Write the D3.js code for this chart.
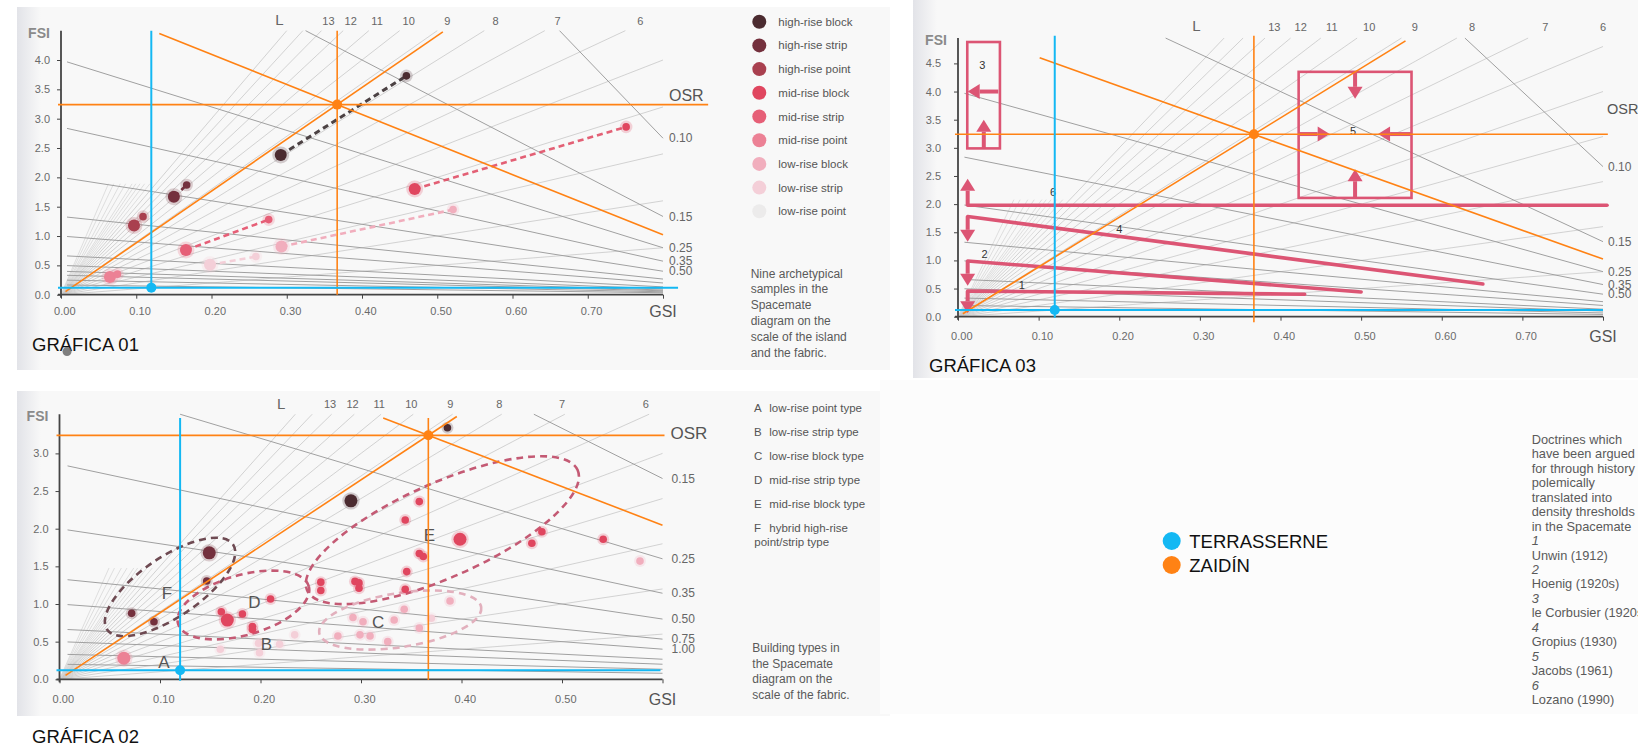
<!DOCTYPE html>
<html>
<head>
<meta charset="utf-8">
<script src="https://cdn.jsdelivr.net/npm/d3@7"></script>
<style>
  body { margin: 0; background: #fff; }
  text { font-family: "Liberation Sans", Arial, sans-serif; }
  .tick text { fill: #6a6a6a; font-size: 11px; }
  .tick line { stroke: #444; }
</style>
</head>
<body>
<div class="chart"></div>
<script>
// ---- shared overlay values (GSI, FSI) ----
var overlayNames = ["TERRASSERNE", "ZAIDÍN"];
var terrasserne = [0.12, 0.12];
var zaidin = [0.367, 3.24];

// spacemate fan: building heights (L) and top labels
var lValues = [1, 2, 3, 4, 5, 6, 7, 8, 9, 10, 11, 12, 13, 14, 15];
var lShort = [16, 17, 18, 19, 20, 22, 24, 27, 30];
var lLabels = [13, 12, 11, 10, 9, 8, 7, 6];

// ---- gráfica 01 ----
var gsiTicks1 = [0, 0.1, 0.2, 0.3, 0.4, 0.5, 0.6, 0.7, 0.8];
var fsiTicks1 = [0, 0.5, 1, 1.5, 2, 2.5, 3, 3.5, 4];
var osrLines1 = [0.075, 0.15, 0.25, 0.35, 0.5, 0.75, 1, 1.5, 2, 2.5, 3, 4, 6];
var osrLabels1 = ["0.10", "0.15", "0.25", "0.35", "0.50"];

var sampleTypes = ["high-rise block", "high-rise strip", "high-rise point", "mid-rise block",
  "mid-rise strip", "mid-rise point", "low-rise block", "low-rise strip", "low-rise point"];
var sampleColors = ["#4b2b30", "#74303d", "#a9404f", "#e0465f", "#e65f77", "#ec8195",
  "#f1aebd", "#f4cfd8", "#ecebeb"];
// island (large dot) and fabric (small dot) values
var islandGsi = [0.292, 0.150, 0.097, 0.470, 0.166, 0.065, 0.293, 0.198];
var islandFsi = [2.38, 1.67, 1.18, 1.80, 0.76, 0.30, 0.82, 0.51];
var fabricGsi = [0.459, 0.167, 0.109, 0.751, 0.276, 0.075, 0.521, 0.259];
var fabricFsi = [3.73, 1.87, 1.33, 2.86, 1.28, 0.35, 1.45, 0.65];
var blotGsi = [0.008];
var blotFsi = [-0.97];
var caption1 = ["Nine archetypical", "samples in the", "Spacemate", "diagram on the",
  "scale of the island", "and the fabric."];

// ---- gráfica 02 ----
var gsiTicks2 = [0, 0.1, 0.2, 0.3, 0.4, 0.5, 0.6];
var fsiTicks2 = [0, 0.5, 1, 1.5, 2, 2.5, 3];
var osrLines2 = [0.15, 0.25, 0.35, 0.5, 0.75, 1, 1.5, 2, 3, 5];
var osrLabels2 = ["0.15", "0.25", "0.35", "0.50", "0.75", "1.00"];
var typeKeys = ["A", "B", "C", "D", "E", "F"];
var typeNames = ["low-rise point type", "low-rise strip type", "low-rise block type",
  "mid-rise strip type", "mid-rise block type", "hybrid high-rise"];
var pts2Gsi = [0.29, 0.386,
  0.149, 0.1465, 0.0718, 0.094,
  0.344, 0.358, 0.358, 0.362, 0.3455, 0.344, 0.3985, 0.47, 0.48, 0.541,
  0.26, 0.26, 0.294, 0.298, 0.298, 0.21, 0.161, 0.167, 0.182, 0.192, 0.192,
  0.064,
  0.292, 0.302, 0.333, 0.343, 0.358, 0.277, 0.299, 0.309, 0.3266, 0.3886, 0.5776,
  0.234, 0.219, 0.198, 0.199, 0.160, 0.37];
var pts2Fsi = [2.37, 3.34,
  1.68, 1.305, 0.876, 0.765,
  2.115, 2.36, 1.67, 1.63, 1.43, 1.195, 1.86, 1.806, 1.96, 1.86,
  1.29, 1.18, 1.30, 1.28, 1.21, 1.066, 0.898, 0.787, 0.867, 0.70, 0.66,
  0.28,
  0.82, 0.765, 0.787, 0.93, 0.68, 0.575, 0.59, 0.575, 0.50, 1.04, 1.57,
  0.59, 0.465, 0.478, 0.353, 0.40, 0.81];
var pts2Cat = [0, 0, 1, 1, 1, 1,
  3, 3, 3, 3, 3, 3, 3, 3, 3, 3, 3, 3, 3, 3, 3, 3, 3, 3, 3, 3, 3,
  5, 6, 6, 6, 6, 6, 6, 6, 6, 6, 6, 6, 7, 7, 7, 7, 7, 7];
var pts2Big = [1, 0, 1, 0, 0, 0, 0, 0, 0, 0, 0, 0, 1, 0, 0, 0, 0, 0, 0, 0, 0, 0, 0, 1, 0, 0, 0,
  1, 0, 0, 0, 0, 0, 0, 0, 0, 0, 0, 0, 0, 0, 0, 0, 0, 0];
// type groups: centre (GSI, FSI) and letter position (GSI, FSI)
var groupKeys = ["F", "D", "E", "C"];
var groupGsi = [0.110, 0.183, 0.381, 0.339];
var groupFsi = [1.226, 0.987, 1.98, 0.787];
var letterGsi = [0.104, 0.206, 0.317, 0.194, 0.368, 0.107];
var letterFsi = [0.225, 0.469, 0.757, 1.03, 1.916, 1.142];
var caption2 = ["Building types in", "the Spacemate", "diagram on the", "scale of the fabric."];

// ---- gráfica 03 ----
var gsiTicks3 = [0, 0.1, 0.2, 0.3, 0.4, 0.5, 0.6, 0.7, 0.8];
var fsiTicks3 = [0, 0.5, 1, 1.5, 2, 2.5, 3, 3.5, 4, 4.5];
var osrLines3 = [0.075, 0.15, 0.25, 0.35, 0.5, 0.75, 1, 1.5, 2, 3, 5];
var osrLabels3 = ["0.10", "0.15", "0.25", "0.35", "0.50"];
var doctrineIds = ["1", "2", "3", "4", "5", "6"];
var doctrineNames = ["Unwin (1912)", "Hoenig (1920s)", "le Corbusier (1920s)", "Gropius (1930)",
  "Jacobs (1961)", "Lozano (1990)"];
// threshold lines [gsi0, fsi0, gsi1, fsi1] for 1, 2, 4, 6
var thresholdLines = [[0.012, 0.455, 0.43, 0.40], [0.012, 0.99, 0.50, 0.44],
  [0.012, 1.78, 0.651, 0.58], [0.012, 1.98, 0.805, 1.98]];
// boxes [gsi0, gsi1, fsi0, fsi1] for 3 and 5
var thresholdBoxes = [[0.0115, 0.052, 2.99, 4.88], [0.4225, 0.5625, 2.11, 4.35]];
// arrows [gsiFrom, fsiFrom, gsiTo, fsiTo]
var thresholdArrows = [[0.05, 4.0, 0.012, 4.0], [0.032, 2.99, 0.032, 3.5],
  [0.012, 1.98, 0.012, 2.45], [0.012, 1.78, 0.012, 1.33],
  [0.012, 0.99, 0.012, 0.55], [0.012, 0.455, 0.012, 0.06],
  [0.4925, 4.35, 0.4925, 3.87], [0.4925, 2.11, 0.4925, 2.62],
  [0.4225, 3.245, 0.461, 3.245], [0.5625, 3.245, 0.521, 3.245]];
var idGsi = [0.079, 0.033, 0.030, 0.200, 0.490, 0.118];
var idFsi = [0.56, 1.11, 4.47, 1.56, 3.30, 2.21];
var caption3 = ["Doctrines which", "have been argued", "for through history", "polemically",
  "translated into", "density thresholds", "in the Spacemate"];

var ORANGE = "#ff8214", BLUE = "#14b8f3", PINK = "#dc5574";

var svg = d3.select(".chart").append("svg")
  .attr("width", 1638).attr("height", 751);

var defs = svg.append("defs");
var grad = defs.append("linearGradient").attr("id", "scanEdge");
grad.append("stop").attr("offset", "0%").attr("stop-color", "#e2e3e8");
grad.append("stop").attr("offset", "100%").attr("stop-color", "#f8f8f8");

// scanned page backgrounds
[[17, 7, 873, 363], [17, 391, 873, 325], [913, 0, 725, 378], [880, 380, 758, 334]].forEach(function (b, i) {
  svg.append("rect").attr("x", b[0]).attr("y", b[1]).attr("width", b[2]).attr("height", b[3])
    .attr("fill", i == 3 ? "#fcfcfc" : "#f8f8f8");
  if (i < 3) {
    svg.append("rect").attr("x", b[0]).attr("y", b[1]).attr("width", 24).attr("height", b[3])
      .attr("fill", "url(#scanEdge)");
  }
});

var panels = [
  { left: 61, right: 663, gsiMax: 0.8, bottom: 294.7, refY: 60, fsiRef: 4, top: 4.5,
    gsiTicks: gsiTicks1, fsiTicks: fsiTicks1, osr: osrLines1, osrLabels: osrLabels1,
    xPad: 9, yPad: 7, lLabelFsi: 4.62, lTextY: 20.7, lOffset: -49, labelDx: 6, osrTitleFsi: 3.40,
    osrTitleDx: 6, osrTitleSize: 16,
    ovTop: 4.5, blueBottom: 0.11, orangeBottom: 0.0, blueRight: 0.82, orangeRight: 0.86,
    diagTop: 4.48, osrTop: 4.45, title: "GRÁFICA 01", titleX: 32, titleY: 350.5 },
  { left: 59.5, right: 662.5, gsiMax: 0.6, bottom: 679.3, refY: 453.4, fsiRef: 3, top: 3.52,
    gsiTicks: gsiTicks2, fsiTicks: fsiTicks2, osr: osrLines2, osrLabels: osrLabels2,
    xPad: 12, yPad: 7, lLabelFsi: 3.5, lTextY: 404.3, lOffset: -49, labelDx: 9, osrTitleFsi: 3.27,
    osrTitleDx: 8, osrTitleSize: 17,
    ovTop: 3.47, blueBottom: -0.02, orangeBottom: -0.01, blueRight: 0.598, orangeRight: 0.602,
    diagTop: 3.49, osrTop: 3.47, title: "GRÁFICA 02", titleX: 32, titleY: 743.3 },
  { left: 958, right: 1603, gsiMax: 0.8, bottom: 316.7, refY: 63.4, fsiRef: 4.5, top: 4.95,
    gsiTicks: gsiTicks3, fsiTicks: fsiTicks3, osr: osrLines3, osrLabels: osrLabels3,
    xPad: 12, yPad: 13, lLabelFsi: 5.1, lTextY: 27, lOffset: -78, labelDx: 5, osrTitleFsi: 3.70,
    osrTitleDx: 4, osrTitleSize: 14.5,
    ovTop: 4.99, blueBottom: -0.02, orangeBottom: -0.1, blueRight: 0.8, orangeRight: 0.806,
    diagTop: 4.9, osrTop: 4.6, title: "GRÁFICA 03", titleX: 929, titleY: 371.7 }
];

panels.forEach(function (cfg, pi) {
  var x = d3.scaleLinear().domain([0, cfg.gsiMax]).range([cfg.left, cfg.right]);
  var y = d3.scaleLinear().domain([0, cfg.fsiRef]).range([cfg.bottom, cfg.refY]);
  cfg.x = x; cfg.y = y;
  var g = svg.append("g");

  // L rays: FSI = L * GSI
  lValues.forEach(function (L) {
    var gEnd = Math.min(cfg.gsiMax, cfg.top / L);
    g.append("line")
      .attr("x1", x(0)).attr("y1", y(0))
      .attr("x2", x(gEnd)).attr("y2", y(L * gEnd))
      .attr("stroke", "#c8c8c8").attr("stroke-width", 0.8);
  });
  lShort.forEach(function (L) {
    var fEnd = cfg.top * 0.42;
    g.append("line")
      .attr("x1", x(0)).attr("y1", y(0))
      .attr("x2", x(fEnd / L)).attr("y2", y(fEnd))
      .attr("stroke", "#d2d2d2").attr("stroke-width", 0.7);
  });

  // OSR lines: FSI = (1 - GSI) / OSR
  cfg.osr.forEach(function (o, i) {
    var g0 = Math.max(0.008, 1 - cfg.top * o);
    var g1 = cfg.gsiMax;
    g.append("line")
      .attr("x1", x(g0)).attr("y1", y((1 - g0) / o))
      .attr("x2", x(g1)).attr("y2", y((1 - g1) / o))
      .attr("stroke", "#a0a0a0").attr("stroke-width", 1);
    if (i < cfg.osrLabels.length) {
      g.append("text")
        .attr("x", x(g1) + cfg.labelDx).attr("y", y((1 - g1) / o)).attr("dy", "0.35em")
        .attr("font-size", "12px").attr("fill", "#666")
        .text(cfg.osrLabels[i]);
    }
  });

  lLabels.forEach(function (L) {
    g.append("text")
      .attr("x", x(Math.min(cfg.gsiMax, cfg.lLabelFsi / L))).attr("y", cfg.lTextY).attr("dy", "0.35em")
      .attr("text-anchor", "middle").attr("font-size", "11px").attr("fill", "#666")
      .text(L);
  });
  g.append("text")
    .attr("x", x(cfg.lLabelFsi / 13) + cfg.lOffset).attr("y", cfg.lTextY - 1).attr("dy", "0.35em")
    .attr("text-anchor", "middle").attr("font-size", "15px").attr("fill", "#666")
    .text("L");

  g.append("text")
    .attr("x", x(cfg.gsiMax) + cfg.osrTitleDx).attr("y", y(cfg.osrTitleFsi)).attr("dy", "0.35em")
    .attr("font-size", cfg.osrTitleSize + "px").attr("fill", "#555")
    .text("OSR");

  // axes
  var xAxis = d3.axisBottom(x).tickValues(cfg.gsiTicks).tickSize(4).tickPadding(cfg.xPad)
    .tickFormat(function (d, i) { return i === cfg.gsiTicks.length - 1 ? "" : d3.format(".2f")(d); });
  var yAxis = d3.axisLeft(y).tickValues(cfg.fsiTicks).tickSize(4).tickPadding(cfg.yPad)
    .tickFormat(d3.format(".1f"));
  var gx = g.append("g").attr("transform", "translate(0," + cfg.bottom + ")").call(xAxis);
  var gy = g.append("g").attr("transform", "translate(" + cfg.left + ",0)").call(yAxis);
  gx.select(".domain").remove();
  gy.select(".domain").remove();
  gx.selectAll(".tick text").attr("dx", "0.3em");
  g.append("line")
    .attr("x1", x(0) - 3).attr("x2", x(cfg.gsiMax)).attr("y1", y(0)).attr("y2", y(0))
    .attr("stroke", "#444").attr("stroke-width", 1.8);
  g.append("line")
    .attr("x1", x(0)).attr("x2", x(0)).attr("y1", y(0) + 3).attr("y2", y(cfg.top))
    .attr("stroke", "#444").attr("stroke-width", 1.8);
  g.append("text")
    .attr("x", x(cfg.gsiMax)).attr("y", y(0) + 17 + (pi ? 3 : 0)).attr("dy", "0.35em")
    .attr("text-anchor", "middle").attr("font-size", "16px").attr("fill", "#555")
    .text("GSI");
  g.append("text")
    .attr("x", x(0) - 22).attr("y", y(cfg.top) + 2).attr("dy", "0.35em")
    .attr("text-anchor", "middle").attr("font-size", "14px").attr("fill", "#8a8a8a")
    .attr("font-weight", "bold")
    .text("FSI");

  svg.append("text")
    .attr("x", cfg.titleX).attr("y", cfg.titleY)
    .attr("font-family", "DejaVu Sans").attr("font-size", "18.5px").attr("fill", "#111")
    .text(cfg.title);
});

// ---- gráfica 01 marks ----
(function () {
  var x = panels[0].x, y = panels[0].y;
  var g = svg.append("g");
  islandGsi.forEach(function (d, i) {
    g.append("line")
      .attr("x1", x(islandGsi[i])).attr("y1", y(islandFsi[i]))
      .attr("x2", x(fabricGsi[i])).attr("y2", y(fabricFsi[i]))
      .attr("stroke", i === 0 ? "#4c4244" : sampleColors[i])
      .attr("stroke-width", i === 0 ? 3 : 2.6).attr("stroke-dasharray", "6,4")
      .attr("opacity", i === 3 ? 0.85 : 1);
  });
  var dots = [];
  islandGsi.forEach(function (d, i) {
    dots.push({ g: islandGsi[i], f: islandFsi[i], c: sampleColors[i], r: 6 });
    dots.push({ g: fabricGsi[i], f: fabricFsi[i], c: sampleColors[i], r: 3.8 });
  });
  g.selectAll(".halo1").data(dots).enter().append("circle")
    .attr("cx", d => x(d.g)).attr("cy", d => y(d.f)).attr("r", d => d.r + 2.5)
    .attr("fill", d => d.c).attr("opacity", 0.22);
  g.selectAll(".dot1").data(dots).enter().append("circle")
    .attr("cx", d => x(d.g)).attr("cy", d => y(d.f)).attr("r", d => d.r)
    .attr("fill", d => d.c);
  g.selectAll(".blot").data(blotGsi).enter().append("circle")
    .attr("cx", (d, i) => x(d)).attr("cy", (d, i) => y(blotFsi[i])).attr("r", 4.5)
    .attr("fill", "#6a6a6a").attr("opacity", 0.85);

  // legend
  var lg = svg.append("g");
  sampleTypes.forEach(function (t, i) {
    lg.append("circle").attr("cx", 759.3).attr("cy", 21.7 + i * 23.7).attr("r", 7)
      .attr("fill", sampleColors[i]);
    lg.append("text").attr("x", 778.3).attr("y", 21.7 + i * 23.7).attr("dy", "0.35em")
      .attr("font-size", "11.5px").attr("fill", "#555").text(t);
  });
  caption1.forEach(function (t, i) {
    lg.append("text").attr("x", 750.7).attr("y", 273.3 + i * 15.8).attr("dy", "0.35em")
      .attr("font-size", "12px").attr("fill", "#5a5a5a").text(t);
  });
})();

// ---- gráfica 02 marks ----
(function () {
  var x = panels[1].x, y = panels[1].y;
  var g = svg.append("g");
  var shape = [[76, 30, -34, "#6e4a52"], [68, 30, -16, "#c45a74"], [148, 47, -24, "#c45a74"],
    [82, 27, -9, "#e2b0bd"]];
  groupKeys.forEach(function (k, i) {
    g.append("ellipse")
      .attr("transform", "translate(" + x(groupGsi[i]) + "," + y(groupFsi[i]) + ") rotate(" + shape[i][2] + ")")
      .attr("rx", shape[i][0]).attr("ry", shape[i][1])
      .attr("fill", "none").attr("stroke", shape[i][3]).attr("stroke-width", 2.6)
      .attr("stroke-dasharray", "7,5");
  });
  var pts = pts2Gsi.map(function (d, i) {
    return { g: d, f: pts2Fsi[i], c: sampleColors[pts2Cat[i]], r: pts2Big[i] ? 6.5 : 3.8 };
  });
  g.selectAll(".halo2").data(pts).enter().append("circle")
    .attr("cx", d => x(d.g)).attr("cy", d => y(d.f)).attr("r", d => d.r + 2.2)
    .attr("fill", d => d.c).attr("opacity", 0.22);
  g.selectAll(".dot2").data(pts).enter().append("circle")
    .attr("cx", d => x(d.g)).attr("cy", d => y(d.f)).attr("r", d => d.r)
    .attr("fill", d => d.c);
  typeKeys.forEach(function (k, i) {
    g.append("text").attr("x", x(letterGsi[i])).attr("y", y(letterFsi[i])).attr("dy", "0.35em")
      .attr("text-anchor", "middle").attr("font-size", "17px").attr("fill", "#555").text(k);
  });

  var lg = svg.append("g");
  typeKeys.forEach(function (k, i) {
    lg.append("text").attr("x", 754).attr("y", 408.3 + i * 23.9).attr("dy", "0.35em")
      .attr("font-size", "11.5px").attr("fill", "#555").text(k);
    lg.append("text").attr("x", 769.3).attr("y", 408.3 + i * 23.9).attr("dy", "0.35em")
      .attr("font-size", "11.5px").attr("fill", "#555").text(typeNames[i]);
  });
  lg.append("text").attr("x", 754.3).attr("y", 541.5).attr("dy", "0.35em")
    .attr("font-size", "11.5px").attr("fill", "#555").text("point/strip type");
  caption2.forEach(function (t, i) {
    lg.append("text").attr("x", 752.3).attr("y", 647.7 + i * 15.7).attr("dy", "0.35em")
      .attr("font-size", "12px").attr("fill", "#5a5a5a").text(t);
  });
})();

// ---- gráfica 03 marks ----
(function () {
  var x = panels[2].x, y = panels[2].y;
  var g = svg.append("g");
  thresholdBoxes.forEach(function (b) {
    g.append("rect")
      .attr("x", x(b[0])).attr("y", y(b[3]))
      .attr("width", x(b[1]) - x(b[0])).attr("height", y(b[2]) - y(b[3]))
      .attr("fill", "none").attr("stroke", PINK).attr("stroke-width", 2.6);
  });
  thresholdLines.forEach(function (l) {
    g.append("line")
      .attr("x1", x(l[0])).attr("y1", y(l[1])).attr("x2", x(l[2])).attr("y2", y(l[3]))
      .attr("stroke", PINK).attr("stroke-width", 3.6).attr("stroke-linecap", "round");
  });
  thresholdArrows.forEach(function (a) {
    var x0 = x(a[0]), y0 = y(a[1]), x1 = x(a[2]), y1 = y(a[3]);
    var dx = x1 - x0, dy = y1 - y0, len = Math.sqrt(dx * dx + dy * dy);
    var ux = dx / len, uy = dy / len, head = 12, half = 7.5;
    var bx = x1 - ux * head, by = y1 - uy * head;
    g.append("line").attr("x1", x0).attr("y1", y0).attr("x2", bx).attr("y2", by)
      .attr("stroke", PINK).attr("stroke-width", 4);
    g.append("path")
      .attr("d", "M" + x1 + "," + y1 + "L" + (bx - uy * half) + "," + (by + ux * half) +
        "L" + (bx + uy * half) + "," + (by - ux * half) + "Z")
      .attr("fill", PINK);
  });
  doctrineIds.forEach(function (d, i) {
    g.append("text").attr("x", x(idGsi[i])).attr("y", y(idFsi[i])).attr("dy", "0.35em")
      .attr("text-anchor", "middle").attr("font-size", "11px").attr("fill", "#333").text(d);
  });

  // the scanned caption runs past the right edge of the page, as in the source
  var lg = svg.append("g");
  var lines = caption3.slice();
  doctrineIds.forEach(function (d, i) { lines.push("#" + d); lines.push(doctrineNames[i]); });
  lines.forEach(function (t, i) {
    var num = t.charAt(0) === "#";
    lg.append("text").attr("x", 1531.7).attr("y", 439.3 + i * 14.47).attr("dy", "0.35em")
      .attr("font-size", "12.8px").attr("fill", "#5a5a5a")
      .attr("font-style", num ? "italic" : "normal")
      .text(num ? t.slice(1) : t);
  });
})();

// ---- overlays: Terrasserne (blue) and Zaidín (orange) ----
panels.forEach(function (cfg) {
  var x = cfg.x, y = cfg.y;
  var g = svg.append("g");
  var Lz = zaidin[1] / zaidin[0];
  var osrZ = (1 - zaidin[0]) / zaidin[1];
  var gStart = 1 - cfg.osrTop * osrZ;
  g.append("line")
    .attr("x1", x(0.006)).attr("y1", y(Lz * 0.006))
    .attr("x2", x(cfg.diagTop / Lz)).attr("y2", y(cfg.diagTop))
    .attr("stroke", ORANGE).attr("stroke-width", 1.6);
  g.append("line")
    .attr("x1", x(gStart)).attr("y1", y(cfg.osrTop))
    .attr("x2", x(cfg.gsiMax)).attr("y2", y((1 - cfg.gsiMax) / osrZ))
    .attr("stroke", ORANGE).attr("stroke-width", 1.6);
  g.append("line")
    .attr("x1", x(0) - 3).attr("y1", y(zaidin[1])).attr("x2", x(cfg.orangeRight)).attr("y2", y(zaidin[1]))
    .attr("stroke", ORANGE).attr("stroke-width", 1.6);
  g.append("line")
    .attr("x1", x(zaidin[0])).attr("y1", y(cfg.ovTop)).attr("x2", x(zaidin[0])).attr("y2", y(cfg.orangeBottom))
    .attr("stroke", ORANGE).attr("stroke-width", 1.6);
  g.append("line")
    .attr("x1", x(0) - 3).attr("y1", y(terrasserne[1])).attr("x2", x(cfg.blueRight)).attr("y2", y(terrasserne[1]))
    .attr("stroke", BLUE).attr("stroke-width", 2);
  g.append("line")
    .attr("x1", x(terrasserne[0])).attr("y1", y(cfg.ovTop)).attr("x2", x(terrasserne[0])).attr("y2", y(cfg.blueBottom))
    .attr("stroke", BLUE).attr("stroke-width", 2);
  g.append("circle").attr("cx", x(zaidin[0])).attr("cy", y(zaidin[1])).attr("r", 5).attr("fill", ORANGE);
  g.append("circle").attr("cx", x(terrasserne[0])).attr("cy", y(terrasserne[1])).attr("r", 5).attr("fill", BLUE);
});

// central legend
[BLUE, ORANGE].forEach(function (c, i) {
  svg.append("circle").attr("cx", 1171.7).attr("cy", 541 + i * 24).attr("r", 9).attr("fill", c);
  svg.append("text").attr("x", 1189.3).attr("y", 548.3 + i * 24)
    .attr("font-family", "DejaVu Sans").attr("font-size", "18.5px").attr("fill", "#111")
    .text(overlayNames[i]);
});
</script>
</body>
</html>
